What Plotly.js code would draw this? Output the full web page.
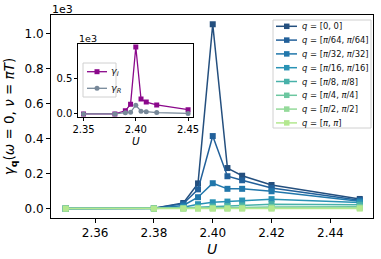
<!DOCTYPE html>
<html><head><meta charset="utf-8">
<script src="https://cdn.plot.ly/plotly-3.0.1.min.js"></script>
<style>html,body{margin:0;padding:0;background:#fff}#chart{width:381px;height:259px}</style>
</head><body><div id="chart"></div>
<script>
// ---- data (values in units of 1, axis shows x1e3) ----
const U = [2.35, 2.38, 2.39, 2.395, 2.40, 2.405, 2.41, 2.42, 2.45];
const qLabels = [
  '<i>q</i> = [0, 0]',
  '<i>q</i> = [<i>π</i>/64, <i>π</i>/64]',
  '<i>q</i> = [<i>π</i>/32, <i>π</i>/32]',
  '<i>q</i> = [<i>π</i>/16, <i>π</i>/16]',
  '<i>q</i> = [<i>π</i>/8, <i>π</i>/8]',
  '<i>q</i> = [<i>π</i>/4, <i>π</i>/4]',
  '<i>q</i> = [<i>π</i>/2, <i>π</i>/2]',
  '<i>q</i> = [<i>π</i>, <i>π</i>]'
];
const gamma_q0    = [0, 2, 32, 144, 1055, 232, 188, 135, 55];
const gamma_qpi64 = [0, 2, 28, 110, 415, 185, 162, 118, 48];
const gamma_qpi32 = [0, 1, 18, 65, 145, 113, 113, 99, 42];
const gamma_qpi16 = [0, 0, 8, 25, 36, 40, 46, 54, 35];
const gamma_qpi8  = [0, 0, 3, 8, 12, 15, 18, 25, 22];
const gamma_qpi4  = [0, 0, 1, 3, 4, 5, 6, 9, 10];
const gamma_qpi2  = [0, 0, 0, 1, 1, 1, 2, 2, 3];
const gamma_qpi   = [0, 0, 0, 0, 0, 0, 0, 0, 0];
const gammaI = [0, 0, 45, 140, 955, 214, 170, 129, 61];
const gammaR = [0, 0, 18, 25, 125, 40, 33, 20, 8];
const insetLabels = ['<i>γ<sub>I</sub></i>', '<i>γ<sub>R</sub></i>'];
const xTickVals = [2.36, 2.38, 2.40, 2.42, 2.44];
const yTickVals = [0, 200, 400, 600, 800, 1000];
const yTickText = ['0.0', '0.2', '0.4', '0.6', '0.8', '1.0'];
const x2TickVals = [2.35, 2.40, 2.45];
const y2TickVals = [0, 500];
const y2TickText = ['0.0', '0.5'];

// ---- styles ----
const series = [gamma_q0, gamma_qpi64, gamma_qpi32, gamma_qpi16, gamma_qpi8, gamma_qpi4, gamma_qpi2, gamma_qpi];
const colors = ['#244f7e', '#22609a', '#2177ab', '#2a93b5', '#48b1a9', '#6cc7a0', '#94da9a', '#b3e88f'];
const insetColors = ['#8b088b', '#778899'];
const insetSymbols = ['square', 'circle'];

const W = 381, H = 259;
const L = 51, R = 373, T = 15, B = 218;
const FONT = 'DejaVu Sans, sans-serif';
const px = x => (x - L) / (R - L);
const py = y => (B - y) / (B - T);

const traces = series.map((ys, i) => ({
  x: U, y: ys, xaxis: 'x', yaxis: 'y', type: 'scatter', mode: 'lines+markers',
  name: qLabels[i], showlegend: false,
  line: {color: colors[i], width: 1.5},
  marker: {symbol: 'square', size: 6, color: colors[i]}
}));
[gammaI, gammaR].forEach((ys, i) => traces.push({
  x: U, y: ys, xaxis: 'x2', yaxis: 'y2', type: 'scatter', mode: 'lines+markers',
  name: insetLabels[i], showlegend: false,
  line: {color: insetColors[i], width: 1.3},
  marker: {symbol: insetSymbols[i], size: 5, color: insetColors[i]}
}));

const shapes = [];
const annotations = [];
// main legend (custom, compact like matplotlib)
const lgX0 = 273, lgX1 = 371, lgY0 = 20, lgY1 = 128, lgRow0 = 26.3, lgDy = 13.8;
shapes.push({type: 'rect', xref: 'paper', yref: 'paper', x0: px(lgX0), x1: px(lgX1), y0: py(lgY0), y1: py(lgY1),
  line: {color: '#d0d0d0', width: 1}, fillcolor: 'rgba(255,255,255,0.85)', layer: 'above'});
qLabels.forEach((lab, i) => {
  const yc = lgRow0 + i * lgDy;
  shapes.push({type: 'line', xref: 'paper', yref: 'paper', x0: px(276), x1: px(297), y0: py(yc), y1: py(yc),
    line: {color: colors[i], width: 1.5}, layer: 'above'});
  shapes.push({type: 'rect', xref: 'paper', yref: 'paper', x0: px(284), x1: px(289.5), y0: py(yc - 2.75), y1: py(yc + 2.75),
    line: {width: 0}, fillcolor: colors[i], layer: 'above'});
  annotations.push({xref: 'paper', yref: 'paper', x: px(300), y: py(yc), xanchor: 'left', yanchor: 'middle',
    text: lab, showarrow: false, font: {family: FONT, size: 8.4, color: '#111'}});
});
// inset legend
const ilX0 = 83, ilX1 = 116, ilY0 = 63, ilY1 = 97, ilRow0 = 71.7, ilDy = 16.6;
shapes.push({type: 'rect', xref: 'paper', yref: 'paper', x0: px(ilX0), x1: px(ilX1), y0: py(ilY0), y1: py(ilY1),
  line: {color: '#d0d0d0', width: 1}, fillcolor: 'rgba(255,255,255,0.85)', layer: 'above'});
insetLabels.forEach((lab, i) => {
  const yc = ilRow0 + i * ilDy;
  shapes.push({type: 'line', xref: 'paper', yref: 'paper', x0: px(87), x1: px(107), y0: py(yc), y1: py(yc),
    line: {color: insetColors[i], width: 1.3}, layer: 'above'});
  shapes.push({type: i === 0 ? 'rect' : 'circle', xref: 'paper', yref: 'paper', x0: px(94.5), x1: px(99.5), y0: py(yc - 2.5), y1: py(yc + 2.5),
    line: {width: 0}, fillcolor: insetColors[i], layer: 'above'});
  annotations.push({xref: 'paper', yref: 'paper', x: px(109), y: py(yc), xanchor: 'left', yanchor: 'middle',
    text: lab, showarrow: false, font: {family: FONT, size: 9.5, color: '#111'}});
});
// offset texts
annotations.push({xref: 'paper', yref: 'paper', x: px(50), y: py(9.5), xanchor: 'left', yanchor: 'middle',
  text: '1e3', showarrow: false, font: {family: FONT, size: 11, color: '#000'}});
annotations.push({xref: 'paper', yref: 'paper', x: px(77), y: py(38.5), xanchor: 'left', yanchor: 'middle',
  text: '1e3', showarrow: false, font: {family: FONT, size: 9.5, color: '#000'}});

const axBase = {showgrid: false, zeroline: false, showline: true, mirror: true, linecolor: '#000', linewidth: 1,
  ticks: 'outside', ticklen: 4, tickwidth: 1, tickcolor: '#000'};

const layout = {
  width: W, height: H, margin: {l: L, r: W - R, t: T, b: H - B},
  paper_bgcolor: '#fff', plot_bgcolor: '#fff', showlegend: false,
  font: {family: FONT, color: '#000'},
  xaxis: Object.assign({}, axBase, {domain: [0, 1], anchor: 'y', range: [2.345, 2.4545],
    tickvals: xTickVals, tickformat: '.2f', tickfont: {size: 12},
    title: {text: '<i>U</i>', font: {size: 14}, standoff: 4}}),
  yaxis: Object.assign({}, axBase, {domain: [0, 1], anchor: 'x', range: [-54, 1108],
    tickvals: yTickVals, ticktext: yTickText, tickfont: {size: 12},
    title: {text: '<i>γ</i><sub><b>q</b></sub>(<i>ω</i> = 0, <i>ν</i> = <i>πT</i>)', font: {size: 13.5}, standoff: 6}}),
  xaxis2: Object.assign({}, axBase, {domain: [px(78.3), px(193.3)], anchor: 'y2', range: [2.345, 2.455],
    tickvals: x2TickVals, tickformat: '.2f', tickfont: {size: 10}, ticklen: 3,
    title: {text: '<i>U</i>', font: {size: 10.5}, standoff: 2}}),
  yaxis2: Object.assign({}, axBase, {domain: [py(117.3), py(44)], anchor: 'x2', range: [-47.5, 997.5],
    tickvals: y2TickVals, ticktext: y2TickText, tickfont: {size: 10}, ticklen: 3}),
  shapes: shapes, annotations: annotations
};
Plotly.newPlot('chart', traces, layout, {staticPlot: true, displayModeBar: false});
</script></body></html>
